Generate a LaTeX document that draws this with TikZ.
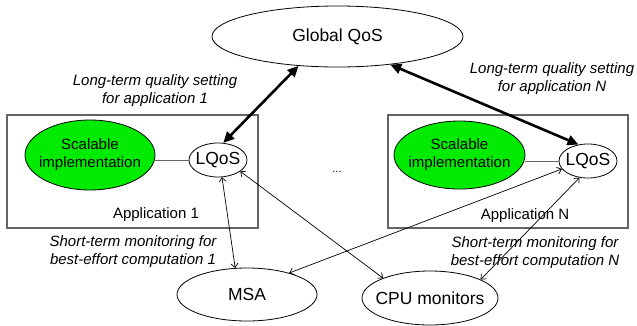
\documentclass[tikz,border=0pt]{standalone}
\usepackage{fontspec}
\setmainfont{Liberation Sans}
\usetikzlibrary{shapes.geometric,arrows.meta}
\definecolor{impgreen}{RGB}{0,235,0}
\definecolor{boxgray}{RGB}{100,100,100}
\begin{document}
\begin{tikzpicture}[x=1pt,y=-1pt,
  oval/.style={ellipse, draw, line width=0.8pt, inner sep=-20pt, font=\fontsize{17.5}{20}\selectfont},
  implov/.style={oval, fill=impgreen, align=center, font=\fontsize{15}{18}\selectfont},
  appbox/.style={draw=boxgray, line width=1.1pt, inner sep=0pt},
  lab/.style={inner sep=0pt, align=center, font=\fontsize{15}{18}\selectfont\itshape},
  plain/.style={inner sep=0pt, font=\fontsize{15}{18}\selectfont},
  thickarr/.style={line width=2.6pt, {Triangle[length=11pt,width=10pt]}-{Triangle[length=11pt,width=10pt]}},
  thinarr/.style={line width=0.7pt, {Straight Barb[length=4pt,width=7pt]}-{Straight Barb[length=4pt,width=7pt]}},
  link/.style={draw=boxgray, line width=1pt}]
\useasboundingbox (0,0) rectangle (637,325);
% application boxes
\node[appbox, minimum width=251pt, minimum height=113pt] (a1) at (132.5,171.5) {};
\node[appbox, minimum width=240pt, minimum height=113pt] (aN) at (508,171.5) {};
\node[plain] (ap1) at (156,215) {Application 1};
\node[plain] (apN) at (525,216) {Application N};
% ovals
\node[oval, minimum width=251pt, minimum height=61pt] (gq) at (337.5,36.5) {Global QoS};
\node[implov, minimum width=130pt, minimum height=70pt] (s1) at (90,155) {Scalable\\implementation};
\node[oval, minimum width=58pt, minimum height=34pt] (l1) at (218,160) {LQoS};
\node[implov, minimum width=131pt, minimum height=68pt] (sN) at (459.5,155) {Scalable\\implementation};
\node[oval, minimum width=58pt, minimum height=34pt] (lN) at (588,161) {LQoS};
\node[oval, minimum width=140pt, minimum height=53pt] (msa) at (247,294.5) {MSA};
\node[oval, minimum width=136pt, minimum height=54pt] (cpu) at (430,298) {CPU monitors};
\node[inner sep=0pt, font=\fontsize{11}{13}\selectfont] (dots) at (337,172) {...};
% labels
\node[lab] (t1) at (155,90.5) {Long-term quality setting\\for application 1};
\node[lab] (tN) at (552,79) {Long-term quality setting\\for application N};
\node[lab] (t3) at (133,252) {Short-term monitoring for\\best-effort computation 1};
\node[lab] (t4) at (535,253) {Short-term monitoring for\\best-effort computation N};
% connectors
\draw[link] (l1.west) -- (s1.east |- l1.west);
\draw[link] (lN.west) -- (sN.east |- lN.west);
\draw[thickarr] (gq.-143) -- (l1.73.6);
\draw[thickarr] (gq.-28) -- (lN.120.5);
\draw[thinarr] (l1.-77) -- (msa.114);
\draw[thinarr] (l1.-27) -- (cpu.157);
\draw[thinarr] (lN.197) -- (msa.27);
\draw[thinarr] (lN.-117) -- (cpu.20);
\end{tikzpicture}
\end{document}
